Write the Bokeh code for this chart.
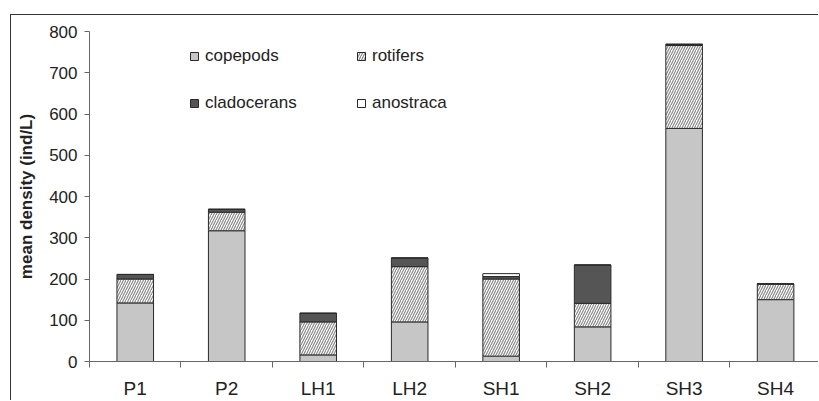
from bokeh.plotting import figure
from bokeh.models import ColumnDataSource, Range1d, FixedTicker, Legend, LegendItem
from bokeh.transform import stack
from bokeh.embed import file_html
from bokeh.resources import INLINE

# ---- data ----
categories = ["P1", "P2", "LH1", "LH2", "SH1", "SH2", "SH3", "SH4"]
copepods = [142, 317, 16, 96, 13, 84, 565, 150]
rotifers = [58, 45, 80, 134, 187, 57, 201, 38]
cladocerans = [11, 7, 21, 21, 6, 93, 3, 0]
anostraca = [0, 0, 0, 0, 7, 0, 0, 0]
series = ["copepods", "rotifers", "cladocerans", "anostraca"]
y_ticks = [0, 100, 200, 300, 400, 500, 600, 700, 800]

# ---- styles ----
fills = {"copepods": "#c6c6c6", "rotifers": "#ffffff", "cladocerans": "#555555", "anostraca": "#ffffff"}
hatches = {"copepods": None, "rotifers": "/", "cladocerans": None, "anostraca": None}
FONT = "Liberation Sans"

xpos = [i + 0.5 for i in range(len(categories))]
source = ColumnDataSource(dict(x=xpos, copepods=copepods, rotifers=rotifers,
                               cladocerans=cladocerans, anostraca=anostraca))

p = figure(width=808, height=386, output_backend="svg", toolbar_location=None,
           x_range=Range1d(0, 7.98), y_range=Range1d(0, 800),
           min_border_left=78, min_border_top=16, min_border_bottom=39, min_border_right=0)
p.margin = (14, 0, 0, 10)
p.styles = {"border-left": "1px solid #333", "border-top": "1px solid #333"}
p.outline_line_color = None
p.xgrid.visible = False
p.ygrid.visible = False
p.background_fill_color = "white"
p.border_fill_color = "white"

renderers = {}
for i, name in enumerate(series):
    below = series[:i]
    kw = {}
    if hatches[name]:
        kw = dict(hatch_pattern=hatches[name], hatch_color="#8a8a8a", hatch_scale=5, hatch_weight=1.2)
    r = p.vbar(x="x", width=0.4, bottom=stack(*below), top=stack(*below, name), source=source,
               fill_color=fills[name], line_color="#2a2a2a", line_width=1, **kw)
    renderers[name] = r

# x axis
xa = p.xaxis[0]
xa.ticker = FixedTicker(ticks=xpos, minor_ticks=list(range(len(categories) + 1)))
xa.major_label_overrides = {x: c for x, c in zip(xpos, categories)}
xa.major_tick_out = 0
xa.major_tick_in = 0
xa.minor_tick_out = 6
xa.minor_tick_in = 0
xa.axis_line_color = "#666666"
xa.minor_tick_line_color = "#666666"
xa.major_label_standoff = 10
xa.major_label_text_font = FONT
xa.major_label_text_font_size = "19px"
xa.major_label_text_color = "#222222"

# y axis
ya = p.yaxis[0]
ya.ticker = FixedTicker(ticks=y_ticks)
ya.major_tick_out = 5
ya.major_tick_in = 0
ya.minor_tick_out = 0
ya.minor_tick_in = 0
ya.axis_line_color = "#666666"
ya.major_tick_line_color = "#666666"
ya.major_label_standoff = 7
ya.major_label_text_font = FONT
ya.major_label_text_font_size = "17px"
ya.major_label_text_color = "#222222"
ya.axis_label = "mean density (ind/L)"
ya.axis_label_text_font = FONT
ya.axis_label_text_font_size = "17px"
ya.axis_label_text_font_style = "bold"
ya.axis_label_text_color = "#222222"
ya.axis_label_standoff = 10


def make_legend(names, loc):
    lg = Legend(items=[LegendItem(label=n, renderers=[renderers[n]]) for n in names],
                location=loc, orientation="vertical", spacing=27, padding=0, margin=0,
                glyph_width=10, glyph_height=10, label_standoff=6, label_height=20,
                label_text_font=FONT, label_text_font_size="17px", label_text_color="#222222",
                border_line_color=None, background_fill_alpha=0)
    p.add_layout(lg)


make_legend(["copepods", "cladocerans"], (100, 248))
make_legend(["rotifers", "anostraca"], (267, 248))

open("out.html", "w").write(file_html(p, INLINE))
